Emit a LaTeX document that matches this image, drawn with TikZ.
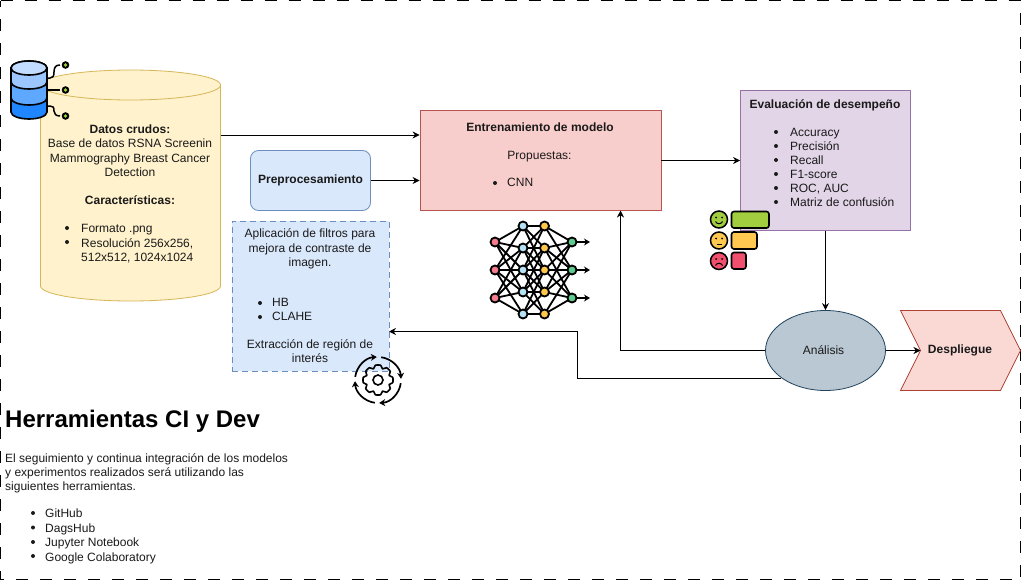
\documentclass[tikz,border=0pt]{standalone}
\usepackage{fontspec}
\setmainfont{Liberation Sans}
\usetikzlibrary{arrows.meta,shapes.geometric,calc}
\definecolor{yelf}{HTML}{FFF2CC}\definecolor{yeld}{HTML}{D6B656}
\definecolor{redf}{HTML}{F8CECC}\definecolor{redd}{HTML}{B85450}
\definecolor{bluf}{HTML}{DAE8FC}\definecolor{blud}{HTML}{6C8EBF}
\definecolor{purf}{HTML}{E1D5E7}\definecolor{purd}{HTML}{9673A6}
\definecolor{grf}{HTML}{BAC8D3}\definecolor{grd}{HTML}{23445D}
\definecolor{orf}{HTML}{FAD9D5}\definecolor{ord}{HTML}{AE4132}
\definecolor{txt}{HTML}{1A1A1A}
\definecolor{dbA}{HTML}{C2DCFF}\definecolor{dbB}{HTML}{9CC6FF}\definecolor{dbC}{HTML}{5FA8FF}\definecolor{dbD}{HTML}{1F86FF}
\definecolor{nnR}{HTML}{F47C8C}\definecolor{nnB}{HTML}{B5E3F5}\definecolor{nnY}{HTML}{FFC84A}\definecolor{nnG}{HTML}{5FCB8F}
\definecolor{smG}{HTML}{A2CD3F}\definecolor{smO}{HTML}{FFC850}\definecolor{smR}{HTML}{F0506E}
\definecolor{dotG}{HTML}{9ACD32}
\tikzset{
 x=1pt,y=-1pt,
 conn/.style={draw=black,line width=0.9pt,-{Stealth[length=7pt,width=7pt]}},
 lab/.style={font=\fontsize{12}{14.4}\selectfont,text=txt,inner sep=0pt,align=center},
 blab/.style={lab,font=\fontsize{12}{14.4}\selectfont\bfseries},
 lst/.style={lab,align=left,anchor=north west},
 blt/.style={circle,fill=txt,inner sep=0pt,minimum size=4pt},
 netl/.style={line width=1.8pt,black},
 nn/.style={circle,draw=black,line width=1.8pt,inner sep=0pt,minimum size=9pt},
}
\begin{document}
\begin{tikzpicture}
\useasboundingbox (0,0) rectangle (1021,581);
\fill[white] (0,0) rectangle (1021,581);
\draw[black,line width=1.1pt,dash pattern=on 12pt off 12pt] (0.5,0.5) -- (1020.5,0.5) -- (1020.5,579.5) -- (0.5,579.5) -- (0.5,0.5);

% cylinder
\path[fill=yelf,draw=yeld,line width=0.8pt] (40.5,85) -- (40.5,286) arc[start angle=180,end angle=360,x radius=90,y radius=-15] -- (220.5,85) arc[start angle=0,end angle=180,x radius=90,y radius=-15] -- cycle;
\draw[yeld,line width=0.8pt] (40.5,85) arc[start angle=180,end angle=360,x radius=90,y radius=-15];
\coordinate (cylE) at (220.5,135);
\node[blab] (datos) at (130,129) {Datos crudos:};
\node[lab] (datosb) at (130,158) {Base de datos RSNA Screenin\\Mammography Breast Cancer\\Detection};
\node[blab] (carac) at (130,200) {Características:};
\node[blt] at (67,228) {}; \node[blt] at (67,242) {};
\node[lst] (fmt) at (81,224.5) {Formato .png\\Resolución 256x256,\\512x512, 1024x1024};

% database icon
\begin{scope}
\draw[black,line width=1.5pt] (47,78) -- (50,78) .. controls (53,78) and (54,76) .. (54,72) .. controls (54,67) and (56,65) .. (60,65);
\draw[black,line width=1.5pt] (47,90) -- (60,90);
\draw[black,line width=1.5pt] (47,106) -- (50,106) .. controls (53,106) and (54,107) .. (54,111) .. controls (54,114) and (56,116) .. (60,116);
\foreach \yy in {65,90,116}{\fill[black] (65.5,\yy) circle (3.8pt);\fill[dotG] (65.5,\yy) circle (1.8pt);}
\path[fill=dbD,draw=black,line width=1.6pt] (11,68) -- (11,112) arc[start angle=180,end angle=360,x radius=18,y radius=-7] -- (47,68) arc[start angle=0,end angle=180,x radius=18,y radius=-7] -- cycle;
\path[fill=dbC,draw=black,line width=1.6pt] (11,68) -- (11,98) arc[start angle=180,end angle=360,x radius=18,y radius=-7] -- (47,68) -- cycle;
\path[fill=dbB,draw=black,line width=1.6pt] (11,68) -- (11,82) arc[start angle=180,end angle=360,x radius=18,y radius=-7] -- (47,68) -- cycle;
\path[fill=dbA,draw=black,line width=1.6pt] (29,68) ellipse (18pt and 7pt);
\end{scope}

% preproc
\node[draw=blud,fill=bluf,line width=0.8pt,rounded corners=8pt,minimum width=120pt,minimum height=60pt,inner sep=0pt,blab] (pre) at (310.5,180.5) {\raisebox{-1pt}{Preprocesamiento}};
\coordinate (preE) at (370.5,180.5);

% filter box
\node[draw=blud,fill=bluf,line width=0.8pt,dash pattern=on 6pt off 4pt,minimum width=157pt,minimum height=150pt,inner sep=0pt] (filt) at (310.5,296) {};
\node[lab] at (310,249) {Aplicación de filtros para\\mejora de contraste de\\imagen.};
\node[blt] at (260,303) {}; \node[blt] at (260,317) {};
\node[lst] at (272,298) {HB\\CLAHE};
\node[lab] at (310,351) {Extracción de región de\\interés};

% train
\node[draw=redd,fill=redf,line width=0.8pt,minimum width=241pt,minimum height=100pt,inner sep=0pt] (train) at (540.5,160.5) {};
\node[blab] at (540,127.5) {Entrenamiento de modelo};
\node[lab] at (539.5,157) {Propuestas:};
\node[blt] at (495,183) {};
\node[lst] at (507,177.5) {CNN};

% eval
\node[draw=purd,fill=purf,line width=0.8pt,minimum width=170pt,minimum height=140pt,inner sep=0pt] (evalb) at (825.5,160.5) {};
\node[blab] at (825,105) {Evaluación de desempeño};
\foreach \yy in {132,146,160,174,188,202}{\node[blt] at (776,\yy) {};}
\node[lst,font=\fontsize{12}{14}\selectfont] at (790,128.5) {Accuracy\\Precisión\\Recall\\F1-score\\ROC, AUC\\Matriz de confusión};

% analysis
\node[draw=grd,fill=grf,line width=0.8pt,ellipse,minimum width=120pt,minimum height=80pt,inner sep=0pt,lab] (ana) at (825.5,350.5) {Análisis\hspace{4pt}};

% despliegue
\path[fill=orf,draw=ord,line width=0.8pt] (900.5,310.5) -- (1000.5,310.5) -- (1020.5,350.5) -- (1000.5,390.5) -- (900.5,390.5) -- (920.5,350.5) -- cycle;
\node[blab] (deplab) at (960,350.5) {Despliegue};
\coordinate (depW) at (920.5,350.5);

% connectors
\draw[conn] (cylE) -- (train.west |- cylE);
\draw[conn] (preE) -- (train.west |- preE);
\draw[conn] (train.east |- 0,160.5) -- (evalb.west);
\draw[conn] (evalb.south) -- (ana.north);
\draw[conn] (ana.east) -- (depW);
\draw[conn] (ana.west) -- (620.5,350.5) -- (620.5,210.5);
\coordinate (anaSW) at (781,378.5);
\draw[conn] (anaSW) -- (577.5,378.5) -- (577.5,331.5) -- (389,331.5);

% neural net icon
\begin{scope}
\foreach \n/\xx/\yy in {a1/495/242,a2/495/270,a3/495/298,b1/523/226,b2/523/248,b3/523/270,b4/523/292,b5/523/314,c1/544.5/226,c2/544.5/248,c3/544.5/270,c4/544.5/292,c5/544.5/314,d1/572/242,d2/572/270,d3/572/298}{\coordinate (\n) at (\xx,\yy);}
\foreach \u/\v in {a1/b1,a1/b2,a1/b3,a1/b4,a2/b1,a2/b2,a2/b3,a2/b4,a2/b5,a3/b2,a3/b3,a3/b4,a3/b5,
 b1/c1,b1/c2,b1/c3,b2/c1,b2/c2,b2/c3,b2/c4,b3/c1,b3/c2,b3/c3,b3/c4,b3/c5,b4/c2,b4/c3,b4/c4,b4/c5,b5/c3,b5/c4,b5/c5,
 c1/d1,c1/d2,c2/d1,c2/d2,c2/d3,c3/d1,c3/d2,c3/d3,c4/d1,c4/d2,c4/d3,c5/d2,c5/d3}{\draw[netl] (\u)--(\v);}
\foreach \yy in {242,270,298}{\draw[netl,-{Stealth[length=6pt,width=7pt]}] (572,\yy) -- (590,\yy);}
\foreach \u in {a1,a2,a3}{\node[nn,fill=nnR] at (\u) {};}
\foreach \u in {b1,b2,b3,b4,b5}{\node[nn,fill=nnB] at (\u) {};}
\foreach \u in {c1,c2,c3,c4,c5}{\node[nn,fill=nnY] at (\u) {};}
\foreach \u in {d1,d2,d3}{\node[nn,fill=nnG] at (\u) {};}
\end{scope}

% smiley icon
\begin{scope}
\tikzset{face/.style={draw=black,line width=1.5pt},barb/.style={draw=black,line width=1.6pt,rounded corners=2.5pt}}
\draw[face,fill=smG] (719,219.5) circle (8.5pt);
\draw[barb,fill=smG] (731.5,211.5) rectangle (769,228);
\draw[face,fill=smO] (719,240.5) circle (8.5pt);
\draw[barb,fill=smO] (731.5,232) rectangle (757,249);
\draw[face,fill=smR] (719,261) circle (8.5pt);
\draw[barb,fill=smR] (731.5,252.5) rectangle (746,269);
\foreach \yy in {219.5,240.5,261}{\fill (716,\yy-2) circle (1pt);\fill (722,\yy-2) circle (1pt);}
\draw[line width=1pt] (715.5,221.5) .. controls (717,224.5) and (721,224.5) .. (722.5,221.5);
\draw[line width=1pt] (716.5,244) -- (721.5,244);
\draw[line width=1pt] (715.5,265.5) .. controls (717,262.5) and (721,262.5) .. (722.5,265.5);
\end{scope}

% gear icon
\begin{scope}[shift={(378,380)}]
\tikzset{circb/.style={draw=black,line width=1.7pt,-{Stealth[length=6pt,width=7pt]}}}
\draw[circb] (188:23) arc[start angle=188,end angle=267,radius=23];
\draw[circb] (278:23) arc[start angle=278,end angle=357,radius=23];
\draw[circb] (8:23) arc[start angle=8,end angle=87,radius=23];
\draw[circb] (98:23) arc[start angle=98,end angle=177,radius=23];
\draw[black,line width=1.6pt] (0,0) circle (5pt);
\draw[black,line width=1.6pt,line join=round] plot[smooth cycle,tension=0.3] coordinates {
 (-10:15)(10:15)(22.5:12)(35:15)(55:15)(67.5:12)(80:15)(100:15)(112.5:12)(125:15)(145:15)(157.5:12)(170:15)(190:15)(202.5:12)(215:15)(235:15)(247.5:12)(260:15)(280:15)(292.5:12)(305:15)(325:15)(337.5:12)};
\end{scope}

% tools text
\node[anchor=west,inner sep=0pt,text=black,font=\fontsize{24}{28}\selectfont\bfseries] (tit) at (5,421) {Herramientas CI y Dev};
\node[lst] (tdesc) at (5,453) {El seguimiento y continua integración de los modelos\\y experimentos realizados será utilizando las\\siguientes herramientas.};
\foreach \yy in {513,527.5,542,556}{\node[blt] at (33,\yy) {};}
\node[lst] (tlist) at (45,509) {GitHub\\DagsHub\\Jupyter Notebook\\Google Colaboratory};
\end{tikzpicture}
\end{document}
